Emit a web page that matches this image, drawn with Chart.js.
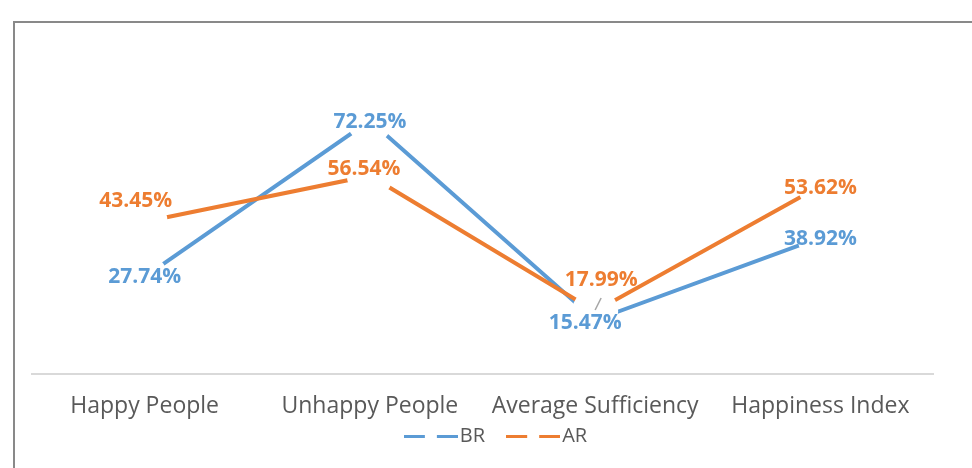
<!DOCTYPE html>
<html>
<head>
<meta charset="utf-8">
<title>BR vs AR</title>
<script src="https://cdn.jsdelivr.net/npm/chart.js@4.4.1/dist/chart.umd.min.js"></script>
<style>
  html, body { margin: 0; padding: 0; background: #fff; overflow: hidden; }
  #wrap { position: relative; width: 972px; height: 468px; }
  #frame {
    position: absolute; left: 13px; top: 21px; width: 1000px; height: 500px;
    border-left: 2px solid #898989; border-top: 2px solid #898989;
    pointer-events: none;
  }
  canvas { position: absolute; left: 0; top: 0; }
</style>
</head>
<body>
<div id="wrap">
  <canvas id="chart" width="972" height="468"></canvas>
  <div id="frame"></div>
</div>
<script>
const categories = ['Happy People', 'Unhappy People', 'Average Sufficiency', 'Happiness Index'];
const brValues = [27.74, 72.25, 15.47, 38.92];
const arValues = [43.45, 56.54, 17.99, 53.62];

// where each value label sits relative to its point (px), as moved in the original
const brLabelShift = [[0, 0], [0, 1], [-10, 2], [0, 1]];
const arLabelShift = [[-9, -21], [-6, -7], [6, -32], [0, 2]];

const BLUE = '#5B9BD5';
const ORANGE = '#ED7D31';

// dashed legend sample "— —", a bit wider than the legend box so the text sits close
function dashSample(color) {
  const c = document.createElement('canvas');
  c.width = 54;
  c.height = 3;
  const g = c.getContext('2d');
  g.fillStyle = color;
  g.fillRect(0, 0, 21, 3);
  g.fillRect(33, 0, 21, 3);
  return c;
}

const valueLabels = {
  id: 'valueLabels',
  afterDatasetsDraw(chart) {
    const ctx = chart.ctx;
    ctx.save();
    ctx.font = 'bold 21px "Open Sans"';
    ctx.textAlign = 'center';
    ctx.textBaseline = 'alphabetic';
    chart.data.datasets.forEach((ds, i) => {
      const meta = chart.getDatasetMeta(i);
      const shifts = ds.label === 'BR' ? brLabelShift : arLabelShift;
      meta.data.forEach((pt, j) => {
        const x = pt.x + shifts[j][0];
        const y = pt.y + shifts[j][1];
        ctx.fillStyle = ds.borderColor;
        ctx.fillText(ds.data[j].toFixed(2) + '%', x, y + 6.5);
      });
    });
    // small leader line next to the 15.47% label
    const p = chart.getDatasetMeta(0).data[2];
    ctx.strokeStyle = '#a6a6a6';
    ctx.lineWidth = 1.5;
    ctx.beginPath();
    ctx.moveTo(p.x + 0, p.y - 10);
    ctx.lineTo(p.x + 6, p.y - 22);
    ctx.stroke();
    ctx.restore();
  }
};

// legend sits tighter under the axis labels than chart.js would put it;
// only its top edge moves up so the clip box still holds the items
const legendNudge = {
  id: 'legendNudge',
  afterLayout(chart) {
    const lg = chart.legend;
    if (!lg) return;
    lg.top -= 41;
    lg.left += 17;
    lg.right += 17;
  }
};

new Chart(document.getElementById('chart').getContext('2d'), {
  type: 'line',
  data: {
    labels: categories,
    datasets: [
      {
        label: 'BR',
        data: brValues,
        borderColor: BLUE,
        backgroundColor: BLUE,
        borderWidth: 4,
        tension: 0,
        pointRadius: 23,
        pointBorderWidth: 0,
        pointBackgroundColor: '#ffffff',
        pointHoverRadius: 23,
        order: 1
      },
      {
        label: 'AR',
        data: arValues,
        borderColor: ORANGE,
        backgroundColor: ORANGE,
        borderWidth: 4,
        tension: 0,
        pointRadius: 23,
        pointBorderWidth: 0,
        pointBackgroundColor: '#ffffff',
        pointHoverRadius: 23,
        order: 0
      }
    ]
  },
  options: {
    responsive: false,
    animation: false,
    devicePixelRatio: 1,
    layout: { padding: { left: 32, right: 39, top: 19, bottom: 0 } },
    scales: {
      x: {
        offset: true,
        grid: { display: false, drawTicks: false },
        border: { display: true, color: '#d9d9d9', width: 2 },
        ticks: {
          color: '#595959',
          font: { family: 'Open Sans', size: 23 },
          padding: 18,
          maxRotation: 0,
          autoSkip: false
        }
      },
      y: { display: false, min: 0, max: 100 }
    },
    plugins: {
      tooltip: { enabled: false },
      legend: {
        position: 'bottom',
        maxHeight: 30,
        labels: {
          usePointStyle: true,
          pointStyleWidth: 38,
          boxHeight: 20,
          padding: 29,
          color: '#595959',
          font: { family: 'Open Sans', size: 20 },
          generateLabels(chart) {
            return chart.data.datasets.map((ds, i) => ({
              text: ds.label,
              datasetIndex: i,
              fillStyle: ds.borderColor,
              strokeStyle: ds.borderColor,
              fontColor: '#595959',
              lineWidth: 0,
              pointStyle: dashSample(ds.borderColor),
              hidden: false
            }));
          }
        }
      }
    }
  },
  plugins: [valueLabels, legendNudge]
});
</script>
</body>
</html>
